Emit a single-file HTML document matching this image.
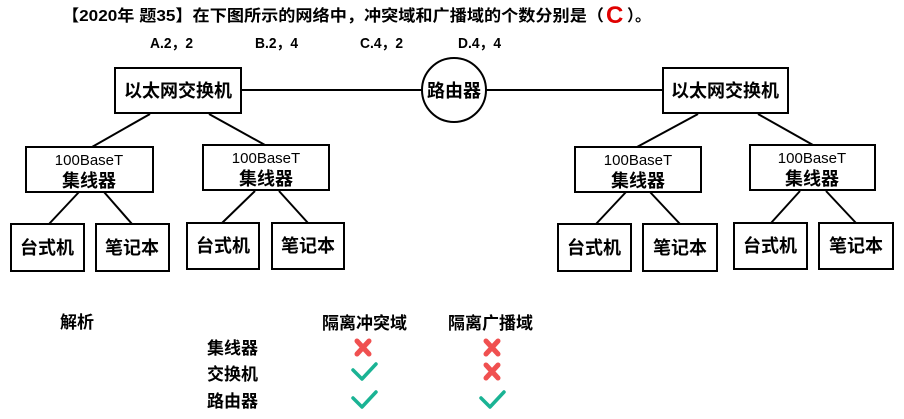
<!DOCTYPE html>
<html><head><meta charset="utf-8"><style>
html,body{margin:0;padding:0;background:#fff;}
svg{display:block;}
text{font-family:"Liberation Sans","Noto Sans CJK SC",sans-serif;font-weight:bold;fill:#000;}
</style></head><body>
<svg width="904" height="419" viewBox="0 0 904 419" xmlns="http://www.w3.org/2000/svg">
<g stroke="#000" stroke-width="2" fill="#fff">
<line x1="241" y1="90" x2="663" y2="90"/>
<circle cx="454" cy="90" r="32"/>
<line x1="150" y1="114" x2="92" y2="147"/><line x1="209" y1="114" x2="265" y2="145"/>
<line x1="79" y1="192" x2="49" y2="224"/><line x1="104" y1="192" x2="132" y2="224"/>
<line x1="255" y1="191" x2="222" y2="223"/><line x1="279" y1="191" x2="308" y2="223"/>
<line x1="698" y1="114" x2="637" y2="147"/><line x1="758" y1="114" x2="813" y2="145"/>
<line x1="626" y1="192" x2="596" y2="224"/><line x1="650" y1="192" x2="680" y2="224"/>
<line x1="800" y1="191" x2="771" y2="223"/><line x1="826" y1="191" x2="856" y2="223"/>
<rect x="115" y="68" width="126" height="45"/>
<rect x="663" y="68" width="125" height="45"/>
<rect x="26" y="147" width="127" height="45"/>
<rect x="203" y="145" width="126" height="45"/>
<rect x="575" y="147" width="126" height="45"/>
<rect x="750" y="145" width="125" height="45"/>
<rect x="11" y="224" width="73" height="47"/>
<rect x="96" y="224" width="73" height="47"/>
<rect x="187" y="223" width="72" height="46"/>
<rect x="272" y="223" width="72" height="46"/>
<rect x="558" y="224" width="73" height="47"/>
<rect x="643" y="224" width="74" height="47"/>
<rect x="734" y="223" width="73" height="46"/>
<rect x="819" y="223" width="74" height="46"/>
</g>
<text x="62" y="21" font-size="16" textLength="542" lengthAdjust="spacingAndGlyphs">【2020年 题35】在下图所示的网络中，冲突域和广播域的个数分别是（</text>
<text x="606" y="23" font-size="24" style="fill:#e00000" font-family="Liberation Sans">C</text>
<text x="627" y="21" font-size="16">）。</text>
<text x="150" y="48" font-size="15" textLength="43" lengthAdjust="spacingAndGlyphs">A.2，2</text>
<text x="255" y="48" font-size="15" textLength="43" lengthAdjust="spacingAndGlyphs">B.2，4</text>
<text x="360" y="48" font-size="15" textLength="43" lengthAdjust="spacingAndGlyphs">C.4，2</text>
<text x="458" y="48" font-size="15" textLength="43" lengthAdjust="spacingAndGlyphs">D.4，4</text>
<g text-anchor="middle" font-size="18">
<text x="178" y="97">以太网交换机</text>
<text x="725" y="97">以太网交换机</text>
<text x="454" y="97">路由器</text>
</g>
<g text-anchor="middle" font-size="15">
<text x="89" y="165" style="font-weight:normal">100BaseT</text>
<text x="266" y="163" style="font-weight:normal">100BaseT</text>
<text x="638" y="165" style="font-weight:normal">100BaseT</text>
<text x="812" y="163" style="font-weight:normal">100BaseT</text>
</g>
<g text-anchor="middle" font-size="18">
<text x="89" y="187">集线器</text>
<text x="266" y="185">集线器</text>
<text x="638" y="187">集线器</text>
<text x="812" y="185">集线器</text>
<text x="47" y="254">台式机</text>
<text x="132" y="254">笔记本</text>
<text x="223" y="252">台式机</text>
<text x="308" y="252">笔记本</text>
<text x="594" y="254">台式机</text>
<text x="680" y="254">笔记本</text>
<text x="770" y="252">台式机</text>
<text x="856" y="252">笔记本</text>
</g>
<g font-size="17">
<text x="60" y="328">解析</text>
<text x="322" y="329">隔离冲突域</text>
<text x="448" y="329">隔离广播域</text>
<text x="207" y="354">集线器</text>
<text x="207" y="380">交换机</text>
<text x="207" y="407">路由器</text>
</g>
<g stroke="#f05050" stroke-width="5" stroke-linecap="round">
<line x1="357" y1="341" x2="369" y2="354"/><line x1="369" y1="341" x2="357" y2="354"/>
<line x1="486" y1="341" x2="498" y2="354"/><line x1="498" y1="341" x2="486" y2="354"/>
<line x1="486" y1="365" x2="498" y2="378"/><line x1="498" y1="365" x2="486" y2="378"/>
</g>
<g stroke="#1ab394" stroke-width="3.5" fill="none" stroke-linecap="round" stroke-linejoin="round">
<polyline points="353,370 362,379 376,364"/>
<polyline points="353,398 362,407 376,392"/>
<polyline points="481,398 490,407 504,392"/>
</g>
</svg>
</body></html>
